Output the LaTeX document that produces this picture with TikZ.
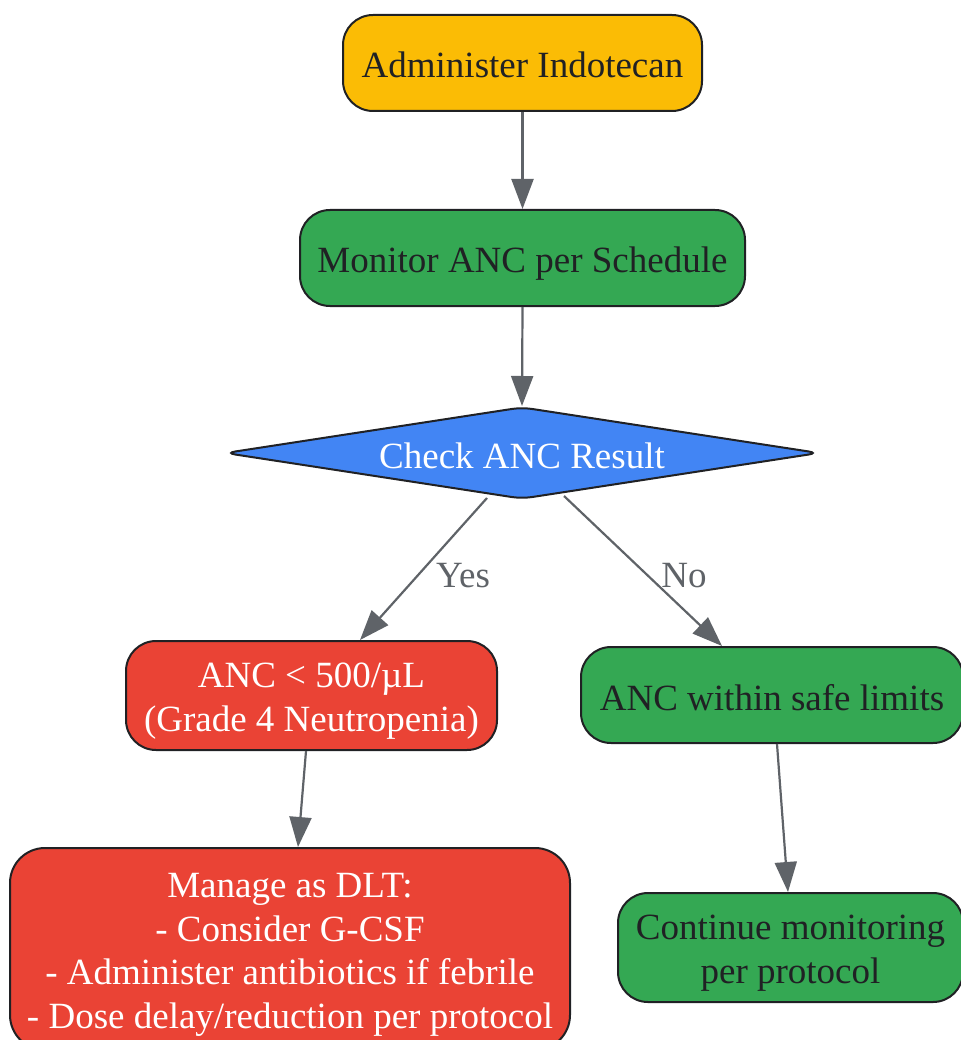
\documentclass[tikz,border=0pt]{standalone}
\usepackage{fontspec}
\setmainfont{Liberation Serif}
\usetikzlibrary{shapes.geometric,arrows.meta}
\definecolor{cyellow}{HTML}{FBBC05}
\definecolor{cgreen}{HTML}{34A853}
\definecolor{cblue}{HTML}{4285F4}
\definecolor{cred}{HTML}{EA4335}
\definecolor{cgrey}{HTML}{5F6368}
\definecolor{cdark}{HTML}{202124}
\newcommand\topstrut{\rule{0pt}{36pt}}
\newcommand\botstrut{\rule[-6pt]{0pt}{6pt}}
\begin{document}
\begin{tikzpicture}[x=1pt,y=-1pt,
  txt/.style={font=\fontsize{37}{43.8}\selectfont, execute at begin node=\topstrut, execute at end node=\botstrut},
  box/.style={txt, rectangle, rounded corners=30pt, draw=cdark, line width=2pt,
    align=center, inner sep=0pt},
  yellowbox/.style={box, fill=cyellow, text=cdark},
  greenbox/.style={box, fill=cgreen, text=cdark},
  redbox/.style={box, fill=cred, text=white},
  decision/.style={txt, diamond, aspect=6.47, draw=cdark, line width=2pt, fill=cblue, text=white,
    rounded corners=10pt, inner sep=0pt},
  conn/.style={draw=cgrey, line width=2.2pt, -{Triangle[width=22pt,length=30pt]}},
  lbl/.style={txt, text=cgrey, inner sep=0pt}]
\useasboundingbox (0,0) rectangle (960,1040);
\node[yellowbox, minimum width=359pt, minimum height=96pt] (adm) at (522.5,63) {Administer Indotecan};
\node[greenbox, minimum width=445pt, minimum height=96pt] (mon) at (522.5,258) {Monitor ANC per Schedule};
\node[decision, minimum width=594pt, minimum height=92pt] (chk) at (522,453) {Check ANC Result};
\node[redbox, minimum width=371pt, minimum height=109pt] (low) at (311.5,695.5) {\topstrut ANC < 500/µL\\(Grade 4 Neutropenia)\botstrut};
\node[greenbox, minimum width=382pt, minimum height=96pt] (safe) at (772,695) {ANC within safe limits};
\node[redbox, rounded corners=35pt, minimum width=560pt, minimum height=202pt] (dlt) at (290,949) {\topstrut Manage as DLT:\\- Consider G-CSF\\- Administer antibiotics if febrile\\- Dose delay/reduction per protocol\botstrut};
\node[greenbox, minimum width=345pt, minimum height=109pt] (cont) at (790.5,947.5) {\topstrut Continue monitoring\\per protocol\botstrut};
\draw[conn] (adm.south) -- (mon.north);
\draw[conn] (mon.south) -- (chk.north);
\draw[conn] ([xshift=-35pt,yshift=2pt]chk.south) -- node[lbl, xshift=39.5pt, yshift=-3.5pt] {Yes} ([xshift=48.5pt]low.north);
\draw[conn] ([xshift=42pt,yshift=4pt]chk.south) -- node[lbl, xshift=41pt, yshift=-1pt] {No} ([xshift=-50pt]safe.north);
\draw[conn] ([xshift=-5.5pt]low.south) -- ([xshift=8pt]dlt.north);
\draw[conn] ([xshift=5pt]safe.south) -- ([xshift=-2.5pt]cont.north);
\end{tikzpicture}
\end{document}
